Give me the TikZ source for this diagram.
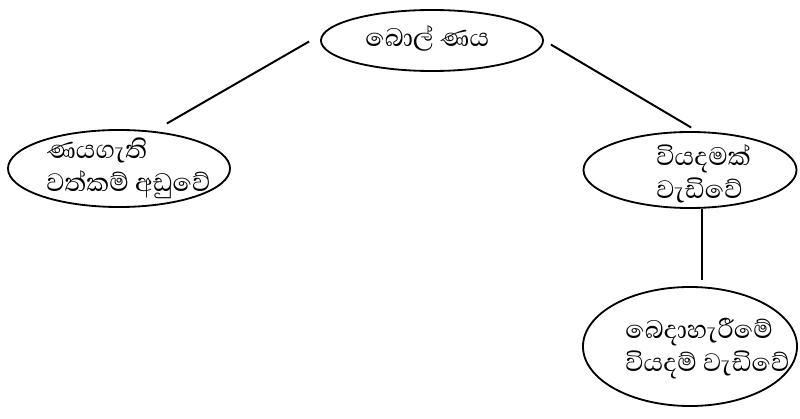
\documentclass[tikz,border=0pt]{standalone}
\usepackage{fontspec}
\newfontfamily\sinhala[Script=Sinhala]{Abhaya Libre}
\usetikzlibrary{shapes.geometric}

\begin{document}
\begin{tikzpicture}[x=0.025cm, y=-0.025cm]
	% Pixel grid, y runs downwards
	\path[use as bounding box] (0, 0) rectangle (800, 419);
	\tikzset{
		bubble/.style={ellipse, draw, line width=1.3pt, inner sep=0pt},
		words/.style={inner sep=0pt, align=left, anchor=west, font=\sinhala\fontsize{23}{23.5}\selectfont},
		tip/.style={circle, inner sep=0pt, draw=none}
	}
	
	% Bad debt (top)
	\node[bubble, minimum width=5.55cm, minimum height=1.525cm] (bol) at (432, 40.5) {};
	\node[words] (bolT) at (365, 38) {බොල් ණය};
	
	% Debtors fall (left)
	\node[bubble, minimum width=5.55cm, minimum height=1.925cm] (nay) at (119, 168.5) {};
	\node[words] (nayT) at (46, 168.5) {ණයගැති\\වත්කම්\ අඩුවේ};
	
	% Expense rises (right)
	\node[bubble, minimum width=5.325cm, minimum height=1.9cm] (viy) at (690, 170) {};
	\node[words] (viyT) at (656, 173.5) {වියදමක්\\වැඩිවේ};
	
	% Distribution expense rises (bottom)
	\node[bubble, minimum width=5.35cm, minimum height=2.975cm] (bed) at (690, 346.5) {};
	\node[words] (bedT) at (625, 348.5) {බෙදාහැරීමේ\\වියදම්\ වැඩිවේ};
	
	%% Connectors
	
	% bol -- nay
	\node[tip] (bolL) at (310, 41) {};
	\node[tip] (nayU) at (166, 124) {};
	\draw[line width=1.4pt] (bolL) -- (nayU);
	
	% bol -- viy
	\node[tip] (bolR) at (550, 44) {};
	\node[tip] (viyU) at (692, 128) {};
	\draw[line width=1.4pt] (bolR) -- (viyU);
	
	% viy -- bed
	\node[tip] (viyD) at (702, 208) {};
	\node[tip] (bedU) at (702, 281) {};
	\draw[line width=2pt] (viyD) -- (bedU);
	
\end{tikzpicture}
\end{document}
